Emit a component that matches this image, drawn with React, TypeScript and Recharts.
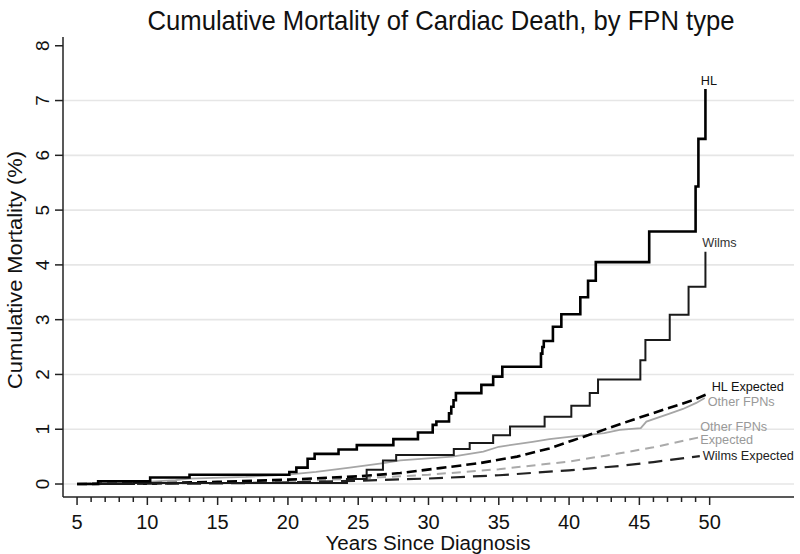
import { LineChart, Line, XAxis, YAxis, ReferenceLine, ReferenceDot } from "recharts";

// years since diagnosis / cumulative mortality (%)
const hlYears = [5, 6.5, 10.2, 13.0, 20.1, 20.6, 21.4, 21.9, 23.6, 24.9, 27.5, 29.25, 30.3, 30.56, 31.46, 31.62, 31.78, 31.95, 33.76, 34.6, 35.25, 38.0, 38.1, 38.2, 38.85, 39.45, 40.8, 41.35, 41.9, 45.7, 49.0, 49.2, 49.7];
const hlValues = [0, 0.05, 0.12, 0.17, 0.22, 0.3, 0.46, 0.55, 0.63, 0.71, 0.82, 0.94, 1.08, 1.14, 1.29, 1.41, 1.53, 1.66, 1.81, 1.96, 2.14, 2.38, 2.5, 2.61, 2.87, 3.1, 3.41, 3.71, 4.05, 4.61, 5.43, 6.3, 7.21];

const wilmsYears = [5, 9, 24.2, 25.6, 26.76, 27.7, 31.8, 32.93, 34.6, 35.8, 38.26, 40.16, 41.47, 42.06, 45.07, 45.43, 47.16, 48.5, 49.7];
const wilmsValues = [0, 0.02, 0.09, 0.26, 0.43, 0.53, 0.64, 0.75, 0.89, 1.05, 1.23, 1.43, 1.66, 1.91, 2.26, 2.63, 3.09, 3.6, 4.24];

const otherYears = [5, 8, 10, 12, 13, 17, 20, 22, 24.4, 26.8, 28, 31.7, 33.9, 35, 37.4, 38.6, 40, 41.5, 42.5, 43.6, 45.1, 45.5, 47.2, 48.1, 49.05, 49.65];
const otherValues = [0, 0.02, 0.04, 0.07, 0.1, 0.13, 0.17, 0.22, 0.3, 0.38, 0.43, 0.5, 0.59, 0.68, 0.77, 0.82, 0.86, 0.9, 0.93, 0.99, 1.02, 1.14, 1.29, 1.37, 1.48, 1.57];

const hlExpYears = [5, 10, 15, 20, 25, 28, 30.8, 33.6, 36.3, 38.6, 40.3, 41, 44.5, 48.8, 50];
const hlExpValues = [0, 0.01, 0.04, 0.08, 0.14, 0.2, 0.29, 0.38, 0.5, 0.65, 0.8, 0.86, 1.17, 1.53, 1.66];

const otherExpYears = [5, 15, 20, 25, 30, 35, 40, 43.6, 46, 49.4];
const otherExpValues = [0, 0.02, 0.05, 0.1, 0.17, 0.27, 0.41, 0.56, 0.67, 0.86];

const wilmsExpYears = [5, 15, 20, 25, 30, 35, 40, 43.6, 46, 49.3];
const wilmsExpValues = [0, 0.01, 0.03, 0.06, 0.1, 0.16, 0.25, 0.33, 0.4, 0.51];

const xTicks = Array.from({ length: 46 }, (_, i) => i + 5);
const yTicks = [0, 1, 2, 3, 4, 5, 6, 7, 8];
const gridValues = [0, 1, 2, 3, 4, 5, 6, 7];

const zip = (xs: number[], ys: number[]) => xs.map((t, i) => ({ t, v: ys[i] }));

const hl = zip(hlYears, hlValues);
const wilms = zip(wilmsYears, wilmsValues);
const other = zip(otherYears, otherValues);
const hlExp = zip(hlExpYears, hlExpValues);
const otherExp = zip(otherExpYears, otherExpValues);
const wilmsExp = zip(wilmsExpYears, wilmsExpValues);

const FONT = "'Liberation Sans', Arial, sans-serif";
const AXIS = "#222";

const XTick = (props: any) => {
  const { x, y, payload } = props;
  const major = payload.value % 5 === 0;
  return (
    <g>
      <line x1={x} x2={x} y1={y} y2={y + (major ? 8 : 5)} stroke={AXIS} strokeWidth={1.5} />
      {major && (
        <text x={x} y={y + 32} textAnchor="middle" fontSize={20} fill="#111" fontFamily={FONT}>
          {payload.value}
        </text>
      )}
    </g>
  );
};

const YTick = (props: any) => {
  const { x, y, payload } = props;
  return (
    <g>
      <line x1={x - 8} x2={x} y1={y} y2={y} stroke={AXIS} strokeWidth={1.5} />
      <text
        x={x - 14}
        y={y}
        textAnchor="middle"
        fontSize={19}
        fill="#111"
        fontFamily={FONT}
        transform={`rotate(-90 ${x - 14} ${y})`}
      >
        {payload.value}
      </text>
    </g>
  );
};

const endLabel = (lines: string[], color: string, dx: number, dy: number, anchor = "start") =>
  (props: any) => {
    const { viewBox } = props;
    const cx = viewBox.x + (viewBox.width || 0) / 2;
    const cy = viewBox.y + (viewBox.height || 0) / 2;
    return (
      <text x={cx + dx} y={cy + dy} textAnchor={anchor} fontSize={12.7} fill={color} fontFamily={FONT}>
        {lines.map((l, i) => (
          <tspan key={i} x={cx + dx} dy={i === 0 ? 0 : 13.5}>
            {l}
          </tspan>
        ))}
      </text>
    );
  };

const last = (d: { t: number; v: number }[]) => d[d.length - 1];

export default function App() {
  return (
    <div style={{ position: "absolute", left: 0, top: 0, width: 800, height: 554, background: "#fff" }}>
      <LineChart width={800} height={554} margin={{ top: 37, right: 6, bottom: 0, left: 0 }}>
        <text x={441} y={30} textAnchor="middle" fontSize={28} fill="#111" fontFamily={FONT} textLength={587} lengthAdjust="spacingAndGlyphs">
          Cumulative Mortality of Cardiac Death, by FPN type
        </text>
        <XAxis
          type="number"
          dataKey="t"
          domain={[4, 56]}
          ticks={xTicks}
          interval={0}
          allowDataOverflow
          height={57}
          tickSize={0}
          tickMargin={0}
          tick={<XTick />}
          axisLine={{ stroke: AXIS, strokeWidth: 1.5 }}
          label={{
            content: () => (
              <text x={428} y={550} textAnchor="middle" fontSize={20} fill="#111" fontFamily={FONT} textLength={205} lengthAdjust="spacingAndGlyphs">
                Years Since Diagnosis
              </text>
            ),
          }}
        />
        <YAxis
          type="number"
          dataKey="v"
          domain={[-0.237, 8.16]}
          ticks={yTicks}
          interval={0}
          allowDataOverflow
          width={63}
          tickSize={0}
          tickMargin={0}
          tick={<YTick />}
          axisLine={{ stroke: AXIS, strokeWidth: 1.5 }}
          label={{
            content: () => (
              <text x={22} y={270} textAnchor="middle" fontSize={21} fill="#111" fontFamily={FONT} transform="rotate(-90 22 270)" textLength={238} lengthAdjust="spacingAndGlyphs">
                Cumulative Mortality (%)
              </text>
            ),
          }}
        />
        {gridValues.map((g) => (
          <ReferenceLine key={g} y={g} stroke="#e6e6e6" strokeWidth={1.6} />
        ))}
        <Line data={otherExp} dataKey="v" type="linear" stroke="#aaaaaa" strokeWidth={2} strokeDasharray="9 6" dot={false} isAnimationActive={false} />
        <Line data={wilmsExp} dataKey="v" type="linear" stroke="#222" strokeWidth={2.2} strokeDasharray="14 8" dot={false} isAnimationActive={false} />
        <Line data={other} dataKey="v" type="linear" stroke="#a6a6a6" strokeWidth={1.8} dot={false} isAnimationActive={false} />
        <Line data={hlExp} dataKey="v" type="linear" stroke="#000" strokeWidth={2.6} strokeDasharray="10 5" dot={false} isAnimationActive={false} />
        <Line data={wilms} dataKey="v" type="stepAfter" stroke="#1a1a1a" strokeWidth={2} dot={false} isAnimationActive={false} />
        <Line data={hl} dataKey="v" type="stepAfter" stroke="#000" strokeWidth={2.6} dot={false} isAnimationActive={false} />

        <ReferenceDot x={last(hl).t} y={last(hl).v} r={0} label={{ content: endLabel(["HL"], "#111", 3.5, -4, "middle") }} />
        <ReferenceDot x={last(wilms).t} y={last(wilms).v} r={0} label={{ content: endLabel(["Wilms"], "#333", 14, -5, "middle") }} />
        <ReferenceDot x={last(hlExp).t} y={last(hlExp).v} r={0} label={{ content: endLabel(["HL Expected"], "#111", 2, -2) }} />
        <ReferenceDot x={last(other).t} y={last(other).v} r={0} label={{ content: endLabel(["Other FPNs"], "#999", 3, 8) }} />
        <ReferenceDot x={last(otherExp).t} y={last(otherExp).v} r={0} label={{ content: endLabel(["Other FPNs", "Expected"], "#999", -1, -6) }} />
        <ReferenceDot x={last(wilmsExp).t} y={last(wilmsExp).v} r={0} label={{ content: endLabel(["Wilms Expected"], "#222", 3, 3.5) }} />
      </LineChart>
    </div>
  );
}
